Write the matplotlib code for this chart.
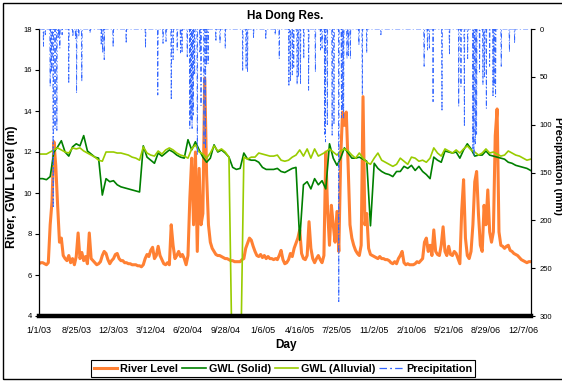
import numpy as np
import matplotlib
matplotlib.use('Agg')
import matplotlib.pyplot as plt

plt.rcParams['font.family'] = ['Liberation Sans', 'DejaVu Sans']

# x axis is the row index of the daily table (Excel category axis)
n_days = 1321
tick_labels = ['1/1/03', '8/25/03', '12/3/03', '3/12/04', '6/20/04', '9/28/04', '1/6/05',
               '4/16/05', '7/25/05', '11/2/05', '2/10/06', '5/21/06', '8/29/06', '12/7/06']

# river level (m), one reading every 5 rows
river_step = 5
river_level = [6.55, 6.6, 6.6, 6.55, 6.5, 6.6, 8.45, 9.6, 12.5, 11.35, 9.4, 7.6, 7.8, 6.95, 6.8,
               6.7, 6.95, 6.6, 6.8, 6.5, 6.9, 8.05, 6.8, 7.1, 6.7, 6.9, 6.55, 8.05, 6.8, 6.7,
               6.6, 6.5, 6.55, 6.65, 6.95, 7.15, 7.05, 6.75, 6.55, 6.7, 6.8, 7.0, 7.05, 6.8, 6.7,
               6.7, 6.6, 6.6, 6.55, 6.55, 6.5, 6.5, 6.5, 6.45, 6.45, 6.4, 6.5, 6.8, 7.0, 6.9,
               7.2, 7.35, 6.8, 6.95, 7.4, 6.95, 6.75, 6.55, 6.5, 6.6, 6.5, 8.45, 7.45, 6.8, 6.95,
               7.15, 6.9, 7.0, 6.8, 6.5, 6.95, 9.75, 11.7, 8.45, 12.0, 7.15, 11.2, 8.45, 9.0,
               15.6, 10.9, 8.45, 7.6, 7.3, 7.15, 7.0, 6.95, 6.95, 6.9, 6.85, 6.8, 6.8, 6.75, 6.7,
               6.7, 6.65, 6.65, 6.65, 6.65, 6.75, 6.8, 7.3, 7.55, 7.8, 7.7, 7.4, 7.15, 6.95, 6.9,
               7.0, 6.85, 6.95, 6.8, 6.9, 6.8, 6.8, 6.75, 6.8, 6.75, 6.95, 7.2, 6.75, 6.55,
               6.6, 6.75, 7.05, 6.9, 7.3, 7.55, 7.8, 8.2, 7.05, 6.8, 6.75, 6.95, 8.6, 7.3, 6.8,
               6.6, 6.8, 6.95, 6.75, 6.6, 6.95, 12.0, 9.1, 7.45, 9.4, 8.45, 7.6, 9.1, 7.15, 11.7,
               13.95, 13.3, 13.95, 11.35, 8.45, 7.8, 7.45, 7.2, 7.05, 6.95, 7.45, 14.7, 8.45, 9.0,
               7.3, 7.0, 6.95, 6.9, 6.85, 6.8, 6.9, 6.8, 6.8, 6.75, 6.75, 6.7, 6.6, 6.55, 6.65,
               6.55, 6.8, 6.95, 7.15, 6.6, 6.5, 6.55, 6.5, 6.5, 6.5, 6.55, 6.65, 6.6, 6.7, 6.8,
               7.6, 7.8, 7.15, 7.45, 6.95, 8.2, 7.15, 7.0, 6.95, 7.45, 8.35, 7.15, 6.95, 7.4,
               7.0, 6.95, 7.15, 7.05, 6.8, 6.55, 9.15, 10.65, 7.8, 6.95, 6.8, 7.15, 8.45, 10.55,
               11.05, 8.95, 7.45, 7.15, 9.4, 8.45, 10.15, 8.1, 7.6, 8.1, 12.8, 14.1, 8.1, 7.45,
               7.4, 7.3, 7.4, 7.45, 7.2, 7.15, 7.05, 7.0, 6.95, 6.85, 6.75, 6.7, 6.65, 6.6, 6.65,
               6.65]

# groundwater levels (m), one reading every 10 rows
gwl_step = 10
gwl_solid = [10.7, 10.7, 10.65, 10.8, 12.0, 12.25, 12.55, 12.0, 11.8, 12.25, 12.4, 12.3, 12.8, 12.05,
             11.9, 11.75, 11.7, 9.9, 10.7, 10.55, 10.6, 10.4, 10.3,
             10.25, 10.2, 10.15, 10.1, 10.05, 12.3, 11.75, 11.6, 11.45, 11.95, 11.8, 11.95, 12.1,
             12.0, 11.85, 11.75, 11.7, 12.6, 12.1, 12.5, 12.1,
             11.75, 11.5, 11.7, 12.35, 12.0, 12.1, 11.95, 11.75, 11.25, 11.15, 11.2, 11.95, 11.65,
             11.6, 11.6, 11.5, 11.25, 11.15, 11.15, 11.15, 11.2, 11.05, 11.0,
             11.1, 11.2, 11.25, 7.7, 10.4, 10.55, 10.2, 10.7, 10.4, 10.6, 10.2, 12.4, 11.7, 11.35,
             11.7, 12.2, 11.95, 11.7, 11.7, 11.75, 11.65, 11.55,
             8.4, 11.45, 11.2, 11.05, 10.95, 10.9, 10.8, 11.05, 11.05, 11.3, 11.2, 11.35, 11.1,
             11.3, 11.05, 10.9, 10.7, 11.75, 11.6, 11.5, 12.05, 12.0,
             11.95, 12.0, 11.7, 12.1, 12.4, 12.15, 11.8, 11.85, 11.85, 12.05, 11.85, 11.8, 11.75,
             11.7, 11.65, 11.5, 11.45, 11.35, 11.3, 11.25, 11.2, 11.1]

gwl_alluvial = [11.9, 11.9, 11.9, 12.0, 12.1, 12.2, 12.1, 12.0, 11.95, 12.2, 12.15, 12.2, 12.05, 11.95,
                11.85, 11.75, 11.6, 11.55, 12.0, 12.0, 12.0, 11.95, 11.95,
                11.9, 11.85, 11.75, 11.7, 11.6, 12.25, 11.95, 11.85, 11.8, 12.05, 11.9, 12.1, 12.2,
                12.1, 11.95, 11.85, 11.8, 11.7, 12.15, 12.35, 12.0,
                11.9, 11.7, 11.95, 12.3, 12.05, 12.15, 12.0, 11.75, 0, 0, 0, 11.75, 11.65, 11.75,
                11.75, 11.95, 11.9, 11.85, 11.8, 11.8, 11.85, 11.6, 11.55,
                11.6, 11.75, 11.85, 12.1, 11.8, 12.15, 11.7, 12.15, 11.8, 11.9, 12.0, 12.15, 12.0,
                11.85, 12.05, 12.15, 12.05, 11.85, 11.7, 11.95, 11.7, 11.5,
                11.4, 11.7, 11.95, 11.6, 11.5, 11.4, 11.3, 11.4, 11.7, 11.55, 11.4, 11.75, 11.7,
                11.55, 11.6, 11.5, 11.7, 12.2, 11.95, 11.8, 12.15, 12.05,
                11.95, 12.1, 11.95, 12.15, 12.3, 12.1, 12.0, 11.85, 11.95, 12.15, 11.95, 12.0, 11.9,
                11.8, 11.85, 12.05, 11.95, 11.85, 11.8, 11.7, 11.6, 11.65]

# rainy days (row index) and rainfall (mm); all other days are dry
precip_day = [12, 17, 30, 34, 38, 43, 48, 53, 56, 62, 80, 91, 98, 101, 107, 115, 137, 167, 171, 175,
              199, 234, 286, 319, 333, 341, 355, 360, 371, 380, 384, 398, 405, 408, 411, 414, 418,
              425, 432, 435, 443, 447, 450, 454, 475, 486, 500, 547, 556, 560, 576, 609, 634, 645,
              671, 675, 680, 684, 693, 697, 702, 711, 724, 742, 756, 760, 767, 769, 774, 787, 792,
              805, 812, 815, 818, 827, 831, 836, 859, 868, 880, 918, 1034, 1043, 1048, 1058, 1082,
              1102, 1127, 1133, 1142, 1151, 1165, 1168, 1172, 1175, 1183, 1192, 1196, 1201, 1210,
              1219, 1222, 1226, 1241, 1263, 1277]
precip_mm = [18, 6, 60, 45, 187, 104, 106, 10, 20, 6, 57, 8, 10, 67, 8, 55, 4, 17, 25, 32,
             19, 15, 20, 69, 15, 13, 74, 32, 22, 25, 25, 29, 104, 95, 104, 90, 48,
             132, 24, 80, 120, 125, 38, 36, 13, 15, 20, 44, 41, 45, 10, 11, 6, 31,
             60, 55, 48, 40, 58, 50, 58, 31, 64, 45, 22, 20, 110, 118, 100, 111, 100,
             285, 93, 85, 93, 31, 28, 31, 17, 69, 25, 6, 39, 22, 20, 76, 86,
             27, 81, 60, 102, 31, 125, 133, 120, 110, 45, 58, 50, 83, 39,
             71, 60, 71, 39, 24, 15]

x_river = np.arange(len(river_level)) * river_step
x_gwl = np.arange(len(gwl_solid)) * gwl_step
precip = np.zeros(n_days)
precip[precip_day] = precip_mm

fig = plt.figure(figsize=(5.62, 3.81), dpi=100)
ax = fig.add_axes([39/562, 1-316/381, (531-39)/562, (316-29)/381])

ax.plot(x_river, river_level, color='#FF8033', lw=2.2, label='River Level')
ax.plot(x_gwl, gwl_solid, color='#008000', lw=1.2, label='GWL (Solid)')
ax.plot(x_gwl, gwl_alluvial, color='#99CC00', lw=1.2, label='GWL (Alluvial)')

ax.set_xlim(0, n_days)
ax.set_ylim(4, 18)
ax.set_yticks(range(4, 19, 2))
ax.set_xticks(range(0, 1301, 100))
ax.set_xticklabels(tick_labels)
ax.tick_params(axis='x', length=0, pad=7, labelsize=6.5)
ax.tick_params(axis='y', length=3, width=0.8, pad=2, labelsize=5.5)
ax.spines['top'].set_visible(False)
ax.spines['right'].set_visible(False)
ax.spines['bottom'].set_linewidth(3.2)
ax.spines['left'].set_linewidth(0.9)

ax2 = ax.twinx()
ax2.plot(np.arange(n_days), precip, color='#3366FF', lw=0.6, ls=(0, (6, 2.5, 1.5, 2.5)),
         label='Precipitation')
ax2.set_ylim(300, 0)
ax2.set_yticks(range(0, 301, 50))
ax2.tick_params(axis='y', length=3, width=0.8, pad=3, labelsize=5.5)
for s in ['top', 'left', 'bottom']:
    ax2.spines[s].set_visible(False)
ax2.spines['right'].set_linewidth(0.9)

fig.text(285/562, 1-16/381, 'Ha Dong Res.', ha='center', va='center', fontsize=8.5, fontweight='bold')
fig.text(286/562, 1-345/381, 'Day', ha='center', va='center', fontsize=8.5, fontweight='bold')
fig.text(12/562, 1-187/381, 'River, GWL Level (m)', ha='center', va='center', rotation=90,
         fontsize=8.8, fontweight='bold')
fig.text(558/562, 1-166/381, 'Precipitation (mm)', ha='center', va='center', rotation=270,
         fontsize=8, fontweight='bold')

handles = ax.get_lines() + ax2.get_lines()
leg = fig.legend(handles, [h.get_label() for h in handles], loc='center', ncol=4,
                 bbox_to_anchor=(283/562, 1-368.5/381), fancybox=False, framealpha=1,
                 prop={'size': 7.8, 'weight': 'bold'}, handlelength=2.15, columnspacing=0.35,
                 handletextpad=0.3, borderpad=0.3)
leg.get_frame().set_edgecolor('black')
leg.get_frame().set_linewidth(0.8)
leg.get_lines()[3].set_linewidth(0.9)

# chart border (right side runs off the picture)
fig.patches.append(plt.Rectangle((3/562, 2/381), 600/562, 376/381, transform=fig.transFigure,
                                 fill=False, ec='black', lw=1))

fig.savefig('out.png', dpi=100)
